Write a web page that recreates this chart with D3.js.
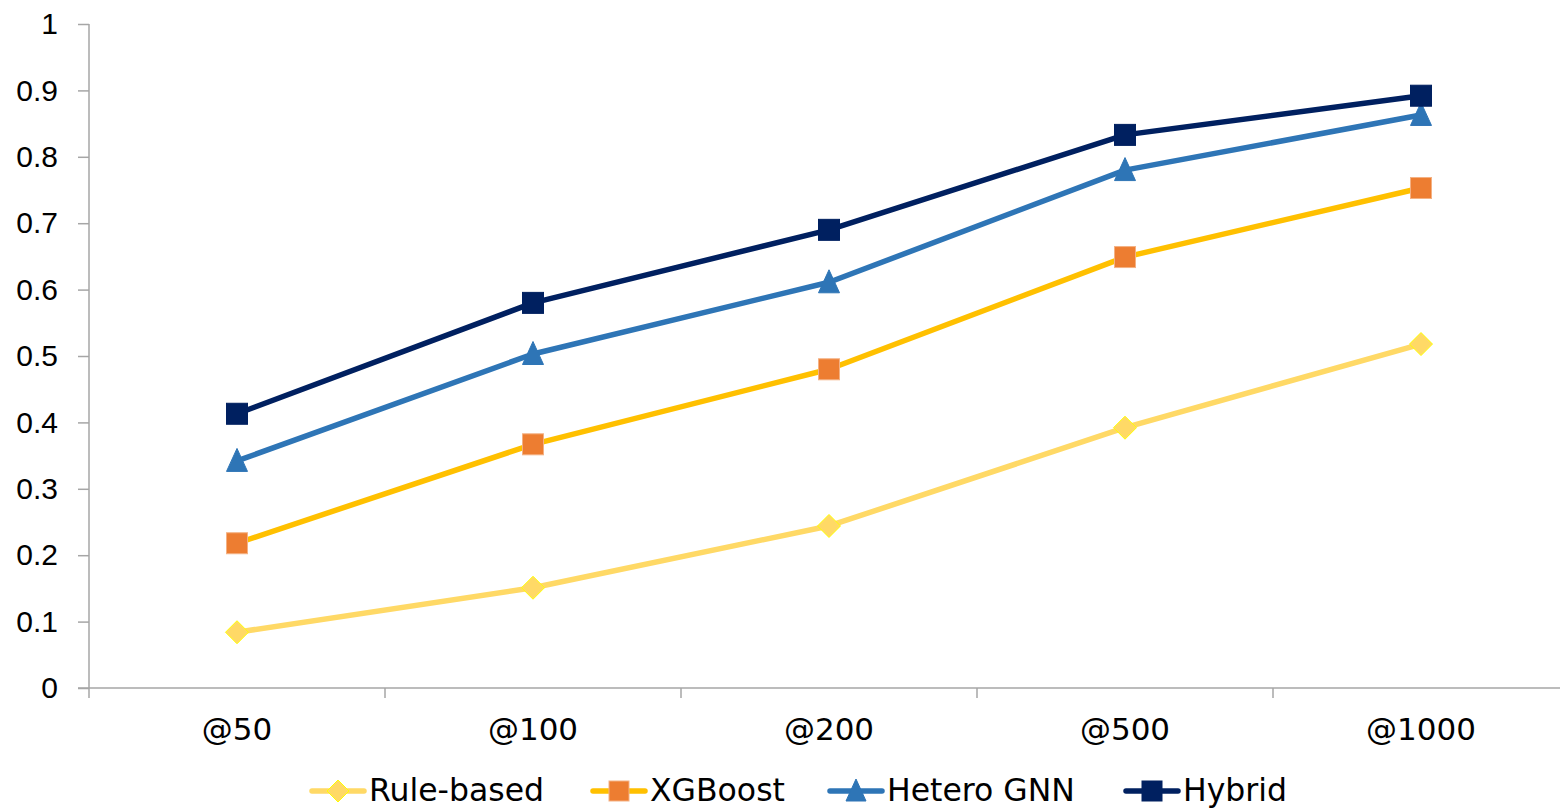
<!DOCTYPE html>
<html>
<head>
<meta charset="utf-8">
<script src="https://cdn.jsdelivr.net/npm/d3@7/dist/d3.min.js"></script>
<style>
  html, body { margin: 0; padding: 0; background: #fff; }
  svg { display: block; font-family: "DejaVu Sans", "Noto Sans", sans-serif; }
</style>
</head>
<body>
<svg id="chart" width="1560" height="809"></svg>
<script>
// Precision at K for each model
const categories = ["@50", "@100", "@200", "@500", "@1000"];
const ruleBased = [0.084, 0.151, 0.244, 0.392, 0.518];
const xgboost   = [0.218, 0.367, 0.480, 0.649, 0.753];
const heteroGnn = [0.342, 0.503, 0.611, 0.780, 0.863];
const hybrid    = [0.413, 0.580, 0.690, 0.833, 0.892];
const seriesNames = ["Rule-based", "XGBoost", "Hetero GNN", "Hybrid"];
const yTicks = [0, 0.1, 0.2, 0.3, 0.4, 0.5, 0.6, 0.7, 0.8, 0.9, 1];

const series = [
  { name: seriesNames[0], values: ruleBased, line: "#FFD966", fill: "#FFD966", stroke: "#FFFF00", shape: "diamond" },
  { name: seriesNames[1], values: xgboost,   line: "#FFC000", fill: "#ED7D31", stroke: "#F4B183", shape: "square" },
  { name: seriesNames[2], values: heteroGnn, line: "#2E75B6", fill: "#2E75B6", stroke: "#2E75B6", shape: "triangle" },
  { name: seriesNames[3], values: hybrid,    line: "#002060", fill: "#002060", stroke: "#002060", shape: "square" }
];

const svg = d3.select("#chart");
// the last category band runs a little past the right edge of the canvas
const plot = { left: 89, right: 1569, top: 24, bottom: 688 };
const canvasRight = 1560;

const x = d3.scaleBand().domain(categories).range([plot.left, plot.right]);
const y = d3.scaleLinear().domain([0, 1]).range([plot.bottom, plot.top]);

// Y axis
const yAxis = svg.append("g")
  .attr("transform", `translate(${plot.left},0)`)
  .call(d3.axisLeft(y).tickValues(yTicks).tickFormat(d => d === 0 ? "0" : d === 1 ? "1" : d3.format(".1f")(d)).tickSize(11).tickPadding(20));
yAxis.select(".domain").attr("d", `M-0,${plot.top}V${plot.bottom + 10}`);

// X axis with ticks on band boundaries
const xAxis = svg.append("g").attr("transform", `translate(0,${plot.bottom})`);
xAxis.append("line").attr("x1", plot.left - 11).attr("x2", canvasRight)
  .attr("stroke", "#A6A6A6").attr("stroke-width", 1.5);
const bounds = categories.map(c => x(c));
xAxis.selectAll(".xtick").data(bounds.slice(1)).join("line")
  .attr("x1", d => d).attr("x2", d => d).attr("y1", 0).attr("y2", 10)
  .attr("stroke", "#A6A6A6").attr("stroke-width", 1.5);
xAxis.selectAll(".xlabel").data(categories).join("text")
  .attr("x", d => x(d) + x.bandwidth() / 2).attr("y", 41)
  .attr("text-anchor", "middle").attr("dominant-baseline", "central")
  .attr("font-size", 31).attr("fill", "#000").text(d => d);

yAxis.selectAll("path, line").attr("stroke", "#A6A6A6").attr("stroke-width", 1.5);
yAxis.selectAll("text").attr("font-size", 30).attr("fill", "#000").attr("font-family", "inherit");

const cx = (d, i) => x(categories[i]) + x.bandwidth() / 2;

function marker(sel, shape, size) {
  if (shape === "square") {
    sel.append("rect").attr("x", -size / 2).attr("y", -size / 2).attr("width", size).attr("height", size);
  } else if (shape === "diamond") {
    const h = size / 2 + 1;
    sel.append("path").attr("d", `M0,${-h}L${h},0L0,${h}L${-h},0Z`);
  } else {
    const h = size / 2;
    sel.append("path").attr("d", `M0,${-h - 2}L${h},${h}L${-h},${h}Z`);
  }
}

const line = d3.line().x(cx).y(d => y(d));

series.forEach(s => {
  svg.append("path").datum(s.values)
    .attr("d", line).attr("fill", "none")
    .attr("stroke", s.line).attr("stroke-width", 5.5).attr("stroke-linejoin", "round").attr("stroke-linecap", "round");
  svg.append("g").selectAll("g").data(s.values).join("g")
    .attr("transform", (d, i) => `translate(${cx(d, i)},${y(d)})`)
    .each(function () {
      const g = d3.select(this);
      marker(g, s.shape, 21);
      g.selectAll("*").attr("fill", s.fill).attr("stroke", s.stroke).attr("stroke-width", 1);
    });
});

// Legend
const legendX = [310, 591, 828, 1124];
const legend = svg.append("g").attr("transform", "translate(0,791)");
series.forEach((s, i) => {
  const g = legend.append("g").attr("transform", `translate(${legendX[i]},0)`);
  g.append("line").attr("x1", 2).attr("x2", 54).attr("y1", 0).attr("y2", 0)
    .attr("stroke", s.line).attr("stroke-width", 5.5).attr("stroke-linecap", "round");
  const m = g.append("g").attr("transform", "translate(28,0)");
  marker(m, s.shape, 20);
  m.selectAll("*").attr("fill", s.fill).attr("stroke", s.stroke).attr("stroke-width", 1);
  g.append("text").attr("x", 59).attr("y", -1).attr("dominant-baseline", "central")
    .attr("font-size", 31.5).attr("fill", "#000").text(s.name);
});
</script>
</body>
</html>
